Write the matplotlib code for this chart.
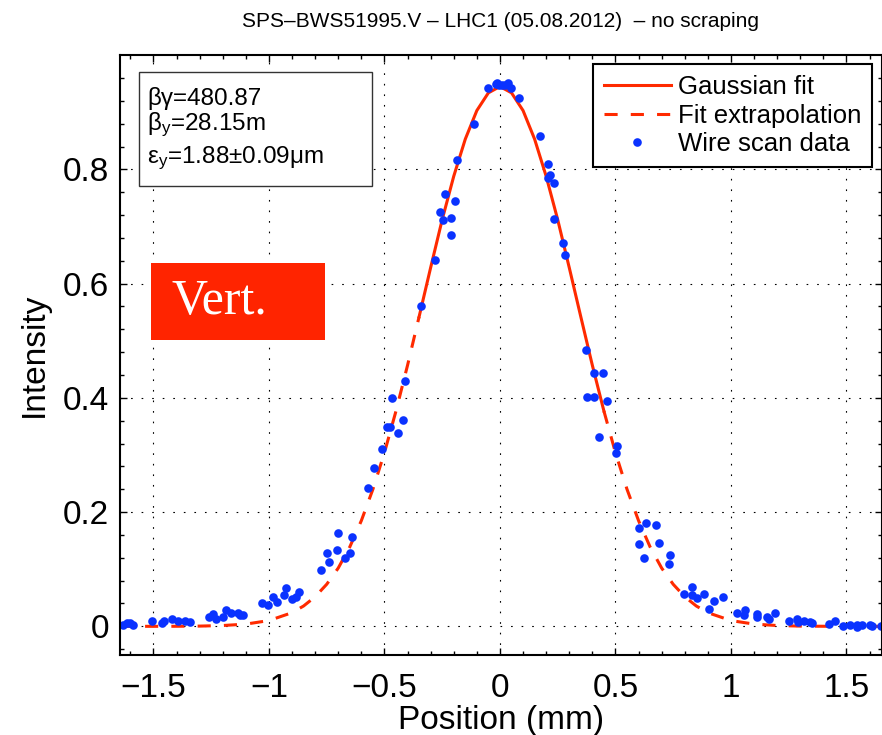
# Profil vertical du wire scan SPS avec ajustement gaussien

import matplotlib
matplotlib.use("Agg")
import matplotlib.pyplot as plt
from matplotlib.lines import Line2D
from matplotlib.patches import Rectangle

plt.rcParams["font.family"] = ["Liberation Sans", "DejaVu Sans"]
plt.rcParams["mathtext.fontset"] = "custom"
plt.rcParams["mathtext.rm"] = "Liberation Sans"
plt.rcParams["mathtext.it"] = "Liberation Sans"

# Données
scan_x = [-1.631, -1.616, -1.602, -1.587, -1.505, -1.462, -1.453, -1.421, -1.395, -1.364,
          -1.342, -1.260, -1.244, -1.229, -1.198, -1.187, -1.166, -1.135, -1.126, -1.111,
          -1.029, -1.006, -0.981, -0.967, -0.935, -0.928, -0.902, -0.882, -0.871, -0.773,
          -0.750, -0.739, -0.704, -0.699, -0.671, -0.649, -0.642, -0.571, -0.544, -0.510,
          -0.490, -0.476, -0.443, -0.421, -0.469, -0.413, -0.341, -0.281, -0.260, -0.248,
          -0.239, -0.213, -0.213, -0.194, -0.185, -0.113, -0.051, -0.019, -0.011, -0.004,
          0.007, 0.022, 0.036, 0.046, 0.084, 0.174, 0.210, 0.217, 0.209, 0.234,
          0.233, 0.274, 0.280, 0.371, 0.408, 0.445, 0.375, 0.407, 0.462, 0.429,
          0.508, 0.502, 0.603, 0.632, 0.674, 0.603, 0.688, 0.624, 0.736, 0.732,
          0.798, 0.830, 0.832, 0.852, 0.884, 0.903, 0.926, 0.964, 1.025, 1.061,
          1.058, 1.111, 1.114, 1.155, 1.165, 1.192, 1.252, 1.287, 1.289, 1.317,
          1.342, 1.352, 1.423, 1.452, 1.484, 1.515, 1.544, 1.547, 1.566, 1.602,
          1.612, 1.648]
scan_y = [0.003, 0.005, 0.005, 0.002, 0.009, 0.006, 0.010, 0.012, 0.010, 0.009,
          0.008, 0.017, 0.022, 0.013, 0.016, 0.028, 0.023, 0.023, 0.019, 0.019,
          0.040, 0.038, 0.052, 0.043, 0.055, 0.067, 0.047, 0.051, 0.060, 0.098,
          0.129, 0.112, 0.133, 0.164, 0.120, 0.129, 0.157, 0.242, 0.278, 0.310,
          0.349, 0.349, 0.338, 0.362, 0.399, 0.429, 0.561, 0.642, 0.726, 0.711,
          0.756, 0.714, 0.685, 0.745, 0.816, 0.879, 0.943, 0.950, 0.952, 0.948,
          0.948, 0.947, 0.952, 0.943, 0.925, 0.859, 0.810, 0.790, 0.785, 0.777,
          0.713, 0.671, 0.650, 0.484, 0.443, 0.444, 0.402, 0.402, 0.394, 0.331,
          0.315, 0.303, 0.172, 0.181, 0.177, 0.145, 0.146, 0.120, 0.124, 0.109,
          0.056, 0.068, 0.054, 0.049, 0.056, 0.031, 0.044, 0.052, 0.023, 0.029,
          0.020, 0.022, 0.017, 0.017, 0.013, 0.023, 0.009, 0.012, 0.007, 0.009,
          0.008, 0.006, 0.004, 0.009, 0.000, 0.002, 0.002, -0.001, 0.002, 0.003,
          0.000, 0.001]

fit_x = [-1.65, -1.5, -1.4, -1.3, -1.2, -1.1, -1.0, -0.9, -0.85, -0.8, -0.75, -0.7,
         -0.65, -0.6, -0.55, -0.5, -0.45, -0.4, -0.35, -0.3, -0.25, -0.2, -0.15, -0.1,
         -0.05, 0.0, 0.05, 0.1, 0.15, 0.2, 0.25, 0.3, 0.35, 0.4, 0.45, 0.5, 0.55, 0.6,
         0.65, 0.7, 0.75, 0.8, 0.85, 0.9, 1.0, 1.1, 1.2, 1.3, 1.4, 1.5, 1.65]
fit_y = [0.0, 0.0, 0.0001, 0.0004, 0.0014, 0.0039, 0.0101, 0.0239, 0.0356, 0.0518, 0.0736, 0.102,
         0.139, 0.185, 0.240, 0.304, 0.377, 0.457, 0.542, 0.628, 0.712, 0.788, 0.853, 0.903,
         0.934, 0.945, 0.934, 0.903, 0.853, 0.788, 0.712, 0.628, 0.542, 0.457, 0.377, 0.304, 0.240, 0.185,
         0.139, 0.102, 0.0736, 0.0518, 0.0356, 0.0239, 0.0101, 0.0039, 0.0014, 0.0004, 0.0001, 0.0, 0.0]
fit_lo, fit_hi = -0.35, 0.45

x_ticks = [-1.5, -1, -0.5, 0, 0.5, 1, 1.5]
x_labels = ["\u22121.5", "\u22121", "\u22120.5", "0", "0.5", "1", "1.5"]
y_ticks = [0, 0.2, 0.4, 0.6, 0.8]
y_labels = ["0", "0.2", "0.4", "0.6", "0.8"]

red = "#ff2a00"
blue = "#0a32ff"

fig = plt.figure(figsize=(8.82, 7.35), dpi=100)
ax = fig.add_axes([0.136, 0.109, 0.8635, 0.816])

# extrapolation (pointillés) de chaque côté, fit plein au centre
left = [(x, y) for x, y in zip(fit_x, fit_y) if x <= fit_lo]
right = [(x, y) for x, y in zip(fit_x, fit_y) if x >= fit_hi]
mid = [(x, y) for x, y in zip(fit_x, fit_y) if fit_lo <= x <= fit_hi]
dash = (0, (4.3, 4.3))
for seg in (left, right):
    ax.plot([p[0] for p in seg], [p[1] for p in seg], color=red, lw=2.2, linestyle=dash)
ax.plot([p[0] for p in mid], [p[1] for p in mid], color=red, lw=2.2)
ax.plot(scan_x, scan_y, "o", color=blue, ms=6.2, mec="none")

ax.set_xlim(-1.645, 1.652)
ax.set_ylim(-0.05, 1.0)
ax.set_xticks(x_ticks)
ax.set_xticklabels(x_labels)
ax.set_yticks(y_ticks)
ax.set_yticklabels(y_labels)
ax.set_xticks([i / 10 for i in range(-16, 17)], minor=True)
ax.set_yticks([i * 0.04 for i in range(-1, 25)], minor=True)
ax.tick_params(which="both", direction="in", top=True, right=True, width=1)
ax.tick_params(which="major", length=5, labelsize=24)
ax.tick_params(which="minor", length=3)
ax.tick_params(axis="x", pad=13)
ax.tick_params(axis="y", pad=8)
ax.grid(True, which="major", color="black", lw=0.8, linestyle=(0, (1.5, 8)))
for s in ax.spines.values():
    s.set_linewidth(1.5)

ax.set_xlabel("Position (mm)", fontsize=24, labelpad=1)
ax.set_ylabel("Intensity", fontsize=24, labelpad=9)
fig.text(0.568, 0.971, "SPS\u2013BWS51995.V \u2013 LHC1 (05.08.2012)  \u2013 no scraping",
         ha="center", va="center", fontsize=15)

# encadré des paramètres
ax.add_patch(Rectangle((0.025, 0.782), 0.306, 0.19, transform=ax.transAxes,
                       facecolor="white", edgecolor="#333333", lw=1, zorder=5))
ax.text(0.036, 0.917, "\u03b2\u03b3=480.87", transform=ax.transAxes, fontsize=17.5,
        va="baseline", zorder=6)
ax.text(0.036, 0.875, "\u03b2$_\\mathrm{y}$=28.15m", transform=ax.transAxes, fontsize=17.5,
        va="baseline", zorder=6)
ax.text(0.036, 0.82, "\u03b5$_\\mathrm{y}$=1.88\u00b10.09\u03bcm", transform=ax.transAxes,
        fontsize=17.5, va="baseline", zorder=6)

# étiquette "Vert."
ax.add_patch(Rectangle((0.0407, 0.525), 0.228, 0.128, transform=ax.transAxes,
                       facecolor="#ff2400", edgecolor="none", zorder=5))
ax.text(0.131, 0.588, "Vert.", transform=ax.transAxes, fontsize=36, color="white",
        family="Liberation Serif", ha="center", va="center", zorder=6)

handles = [Line2D([], [], color=red, lw=2.2),
           Line2D([], [], color=red, lw=2.2, linestyle=dash),
           Line2D([], [], color=blue, marker="o", ms=6.2, mec="none", linestyle="none")]
leg = ax.legend(handles, ["Gaussian fit", "Fit extrapolation", "Wire scan data"],
                loc="upper right", bbox_to_anchor=(0.988, 0.985), borderaxespad=0,
                fontsize=18.5, handlelength=2.6, handletextpad=0.3, labelspacing=0.18,
                borderpad=0.42, fancybox=False, framealpha=1)
leg.get_frame().set_edgecolor("black")
leg.get_frame().set_linewidth(1.5)

fig.savefig("out.png", dpi=100)
